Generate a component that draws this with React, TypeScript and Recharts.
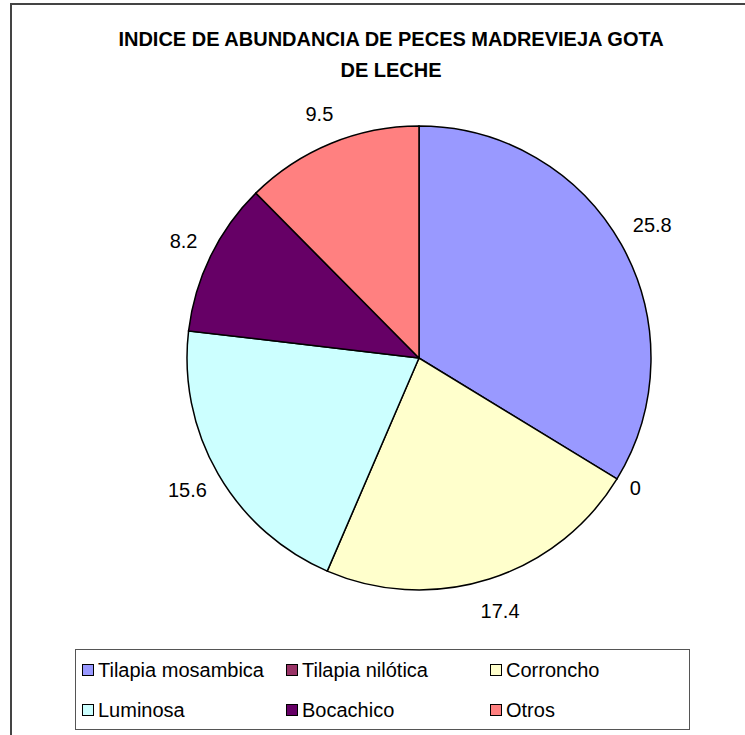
import React from 'react'
import { PieChart, Pie, Cell, Legend } from 'recharts'

const species = ['Tilapia mosambica', 'Tilapia nilótica', 'Corroncho', 'Luminosa', 'Bocachico', 'Otros']
const abundance = [25.8, 0, 17.4, 15.6, 8.2, 9.5]
const colors = ['#9999FF', '#993366', '#FFFFCC', '#CCFFFF', '#660066', '#FF8080']

const titleLines = ['INDICE DE ABUNDANCIA DE PECES MADREVIEJA GOTA', 'DE LECHE']

const FONT = '"Liberation Sans", Arial, sans-serif'
const RAD = Math.PI / 180

const data = species.map((name, i) => ({ name, value: abundance[i], color: colors[i] }))

// rough label width so narrow labels sit closer to the rim (like Excel does)
function labelWidth(s: string) {
  let w = 0
  for (const ch of s) w += ch === '.' ? 5.6 : 11.1
  return w
}

function renderLabel(props: any) {
  const { cx, cy, outerRadius, midAngle, value } = props
  const txt = String(value)
  const d = outerRadius + 16 + labelWidth(txt) / 2
  const x = cx + d * Math.cos(-midAngle * RAD)
  const y = cy + d * Math.sin(-midAngle * RAD) - 2
  return (
    <text
      x={x}
      y={y}
      textAnchor="middle"
      dominantBaseline="central"
      fontFamily={FONT}
      fontSize={20}
      fill="#000"
    >
      {txt}
    </text>
  )
}

function LegendBox() {
  return (
    <div
      style={{
        boxSizing: 'border-box',
        width: 615,
        height: 81,
        border: '1px solid #555',
        background: '#fff',
        display: 'grid',
        gridTemplateColumns: '204px 204px 200px',
        gridTemplateRows: '40px 40px',
        padding: '0 0 0 6px',
        alignItems: 'center',
        fontFamily: FONT,
        fontSize: 20,
        color: '#000',
      }}
    >
      {data.map((d) => (
        <div key={d.name} style={{ display: 'flex', alignItems: 'center', whiteSpace: 'nowrap' }}>
          <span
            style={{
              display: 'inline-block',
              boxSizing: 'border-box',
              width: 12,
              height: 12,
              background: d.color,
              border: '1.5px solid #000',
              marginRight: 4,
            }}
          />
          {d.name}
        </div>
      ))}
    </div>
  )
}

export default function App() {
  return (
    <div
      style={{
        position: 'absolute',
        left: 0,
        top: 0,
        width: 745,
        height: 735,
        overflow: 'hidden',
        background: '#fff',
      }}
    >
      <div
        style={{
          position: 'absolute',
          left: 10,
          top: 3,
          width: 800,
          height: 800,
          border: '2px solid #444',
        }}
      />
      {titleLines.map((t, i) => (
        <div
          key={t}
          style={{
            position: 'absolute',
            left: 0,
            width: 782,
            top: 26 + i * 31,
            textAlign: 'center',
            fontFamily: FONT,
            fontWeight: 'bold',
            fontSize: 20,
            lineHeight: '26px',
            color: '#000',
          }}
        >
          {t}
        </div>
      ))}
      <div style={{ position: 'absolute', left: 0, top: 0 }}>
        <PieChart width={745} height={735} margin={{ top: 0, right: 0, bottom: 0, left: 0 }}>
          <Pie
            data={data}
            dataKey="value"
            nameKey="name"
            cx={419}
            cy={358}
            outerRadius={232}
            startAngle={90}
            endAngle={-270}
            stroke="#000"
            strokeWidth={1.5}
            label={renderLabel}
            labelLine={false}
            isAnimationActive={false}
          >
            {data.map((d) => (
              <Cell key={d.name} fill={d.color} />
            ))}
          </Pie>
          <Legend
            content={() => <LegendBox />}
            wrapperStyle={{ position: 'absolute', left: 75, top: 649, width: 615, height: 81 }}
          />
        </PieChart>
      </div>
    </div>
  )
}
